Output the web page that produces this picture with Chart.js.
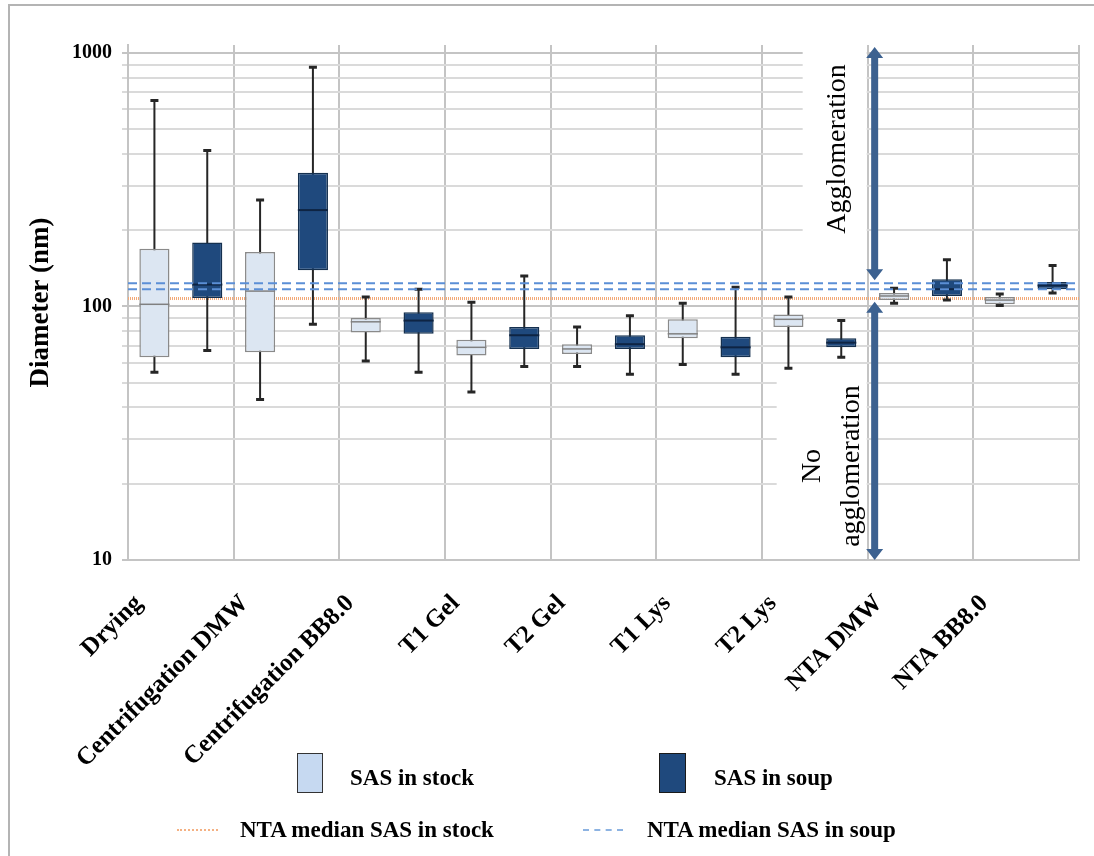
<!DOCTYPE html>
<html>
<head>
<meta charset="utf-8">
<script src="https://cdn.jsdelivr.net/npm/chart.js@4.4.1/dist/chart.umd.min.js"></script>
<style>
  html, body { margin: 0; padding: 0; background: #fff; }
  #wrap { position: relative; width: 1094px; height: 856px; overflow: hidden; }
  #frame { position: absolute; left: 8px; top: 4px; width: 1200px; height: 1000px;
           border-left: 2px solid #b4b4b4; border-top: 2px solid #b4b4b4; }
  canvas { position: absolute; left: 0; top: 0; }
  .lg { position: absolute; font: bold 23px "Liberation Serif", "Times New Roman", serif;
        color: #000; line-height: 23px; white-space: nowrap; }
  .sw { position: absolute; box-sizing: border-box; }
</style>
</head>
<body>
<div id="wrap">
  <div id="frame"></div>
  <canvas id="chart" width="1094" height="856"></canvas>

  <div class="sw" style="left:297px;top:753px;width:26px;height:40px;background:#c6d9f1;border:1.5px solid #333;"></div>
  <div class="lg" style="left:350px;top:766px;">SAS in stock</div>
  <div class="sw" style="left:659px;top:753px;width:27px;height:40px;background:#1f497d;border:1.5px solid #1a1a1a;"></div>
  <div class="lg" style="left:714px;top:766px;">SAS in soup</div>

  <div class="sw" style="left:177px;top:829px;width:41px;height:0;border-top:2px dotted #f4b183;"></div>
  <div class="lg" style="left:240px;top:818px;">NTA median SAS in stock</div>
  <div class="sw" style="left:583px;top:829px;width:40px;height:0;border-top:2px dashed #8db3e2;"></div>
  <div class="lg" style="left:647px;top:818px;">NTA median SAS in soup</div>
</div>

<script>
// categories on the x axis
const categories = ['Drying', 'Centrifugation DMW', 'Centrifugation BB8.0', 'T1 Gel', 'T2 Gel',
                    'T1 Lys', 'T2 Lys', 'NTA DMW', 'NTA BB8.0'];

// SAS in stock (nm)
const stockMin = [55, 43, 61, 46, 58, 59, 57, 103, 101];
const stockQ1  = [63, 66, 79, 64, 65, 75, 83, 106, 102];
const stockMed = [102, 115, 87, 69, 68, 78, 89, 110, 106];
const stockQ3  = [169, 164, 90, 74, 71, 89, 93, 113, 109];
const stockMax = [650, 263, 109, 104, 83, 103, 109, 118, 112];

// SAS in soup (nm)
const soupMin = [67, 85, 55, 58, 54, 54, 63, 106, 113];
const soupQ1  = [108, 139, 78, 68, 68, 63, 69, 110, 117];
const soupMed = [122, 240, 88, 77, 71, 69, 72, 117, 121];
const soupQ3  = [179, 337, 95, 83, 77, 76, 75, 128, 125];
const soupMax = [412, 878, 117, 132, 92, 119, 88, 153, 145];

// NTA median reference lines (nm)
const ntaStockMedian = [107.5];
const ntaSoupMedian = [117, 123.5];

// y axis: grid values and the ones that get a label
const yGridValues = [10, 20, 30, 40, 50, 60, 70, 80, 90, 100, 200, 300, 400, 500, 600, 700, 800, 900, 1000];
const yLabelValues = [10, 100, 1000];

// arrows (from / to, nm)
const aggloArrow = [1056, 127];
const noAggloArrow = [104.5, 10];

const SERIF = '"Liberation Serif", "Times New Roman", serif';
const ARROW_COLOR = '#3c6190';

function drawArrow(ctx, x, y1, y2) {
    // y1 top tip, y2 bottom tip (pixels), heads on both ends
    const head = 11, hw = 8.5, sw = 3.5;
    ctx.fillStyle = ARROW_COLOR;
    ctx.beginPath();
    ctx.moveTo(x, y1);
    ctx.lineTo(x + hw, y1 + head);
    ctx.lineTo(x + sw, y1 + head);
    ctx.lineTo(x + sw, y2 - head);
    ctx.lineTo(x + hw, y2 - head);
    ctx.lineTo(x, y2);
    ctx.lineTo(x - hw, y2 - head);
    ctx.lineTo(x - sw, y2 - head);
    ctx.lineTo(x - sw, y1 + head);
    ctx.lineTo(x - hw, y1 + head);
    ctx.closePath();
    ctx.fill();
}

const boxExtras = {
    id: 'boxExtras',
    beforeDatasetsDraw(chart) {
        const {ctx, chartArea, scales: {x, y}} = chart;
        const split = (x.getPixelForValue(6) + x.getPixelForValue(7)) / 2;

        ctx.save();
        // white boxes behind the annotation texts
        ctx.fillStyle = '#fff';
        ctx.fillRect(split - 65, chartArea.top, 64, 207);
        ctx.fillRect(split - 91, 370, 90, chartArea.bottom - 372);

        // orange dotted line sits behind the boxes
        ctx.strokeStyle = '#f2a978';
        ctx.lineWidth = 3;
        ctx.setLineDash([1, 1]);
        ntaStockMedian.forEach(v => {
            const py = y.getPixelForValue(v);
            ctx.beginPath();
            ctx.moveTo(chartArea.left, py);
            ctx.lineTo(chartArea.right, py);
            ctx.stroke();
        });
        ctx.setLineDash([]);

        // whiskers
        const series = [[stockMin, stockMax], [soupMin, soupMax]];
        ctx.strokeStyle = '#262626';
        series.forEach((s, di) => {
            chart.getDatasetMeta(di).data.forEach((bar, i) => {
                const top = y.getPixelForValue(s[1][i]);
                const bot = y.getPixelForValue(s[0][i]);
                ctx.lineWidth = 2;
                ctx.beginPath();
                ctx.moveTo(bar.x, top);
                ctx.lineTo(bar.x, bot);
                ctx.stroke();
                ctx.lineWidth = 3;
                ctx.beginPath();
                ctx.moveTo(bar.x - 4, top);
                ctx.lineTo(bar.x + 4, top);
                ctx.moveTo(bar.x - 4, bot);
                ctx.lineTo(bar.x + 4, bot);
                ctx.stroke();
            });
        });
        ctx.restore();
    },
    afterDatasetsDraw(chart) {
        const {ctx, chartArea, scales: {x, y}} = chart;
        const split = (x.getPixelForValue(6) + x.getPixelForValue(7)) / 2;
        ctx.save();

        // medians
        const meds = [[stockMed, '#808080', 1.5], [soupMed, '#0e2443', 2]];
        meds.forEach((m, di) => {
            ctx.strokeStyle = m[1];
            ctx.lineWidth = m[2];
            chart.getDatasetMeta(di).data.forEach((bar, i) => {
                const py = y.getPixelForValue(m[0][i]);
                ctx.beginPath();
                ctx.moveTo(bar.x - bar.width / 2, py);
                ctx.lineTo(bar.x + bar.width / 2, py);
                ctx.stroke();
            });
        });

        // blue dashed lines on top
        ctx.strokeStyle = '#5b8fd6';
        ctx.lineWidth = 2;
        ctx.setLineDash([9, 5]);
        ntaSoupMedian.forEach(v => {
            const py = y.getPixelForValue(v);
            ctx.beginPath();
            ctx.moveTo(chartArea.left, py);
            ctx.lineTo(chartArea.right, py);
            ctx.stroke();
        });
        ctx.setLineDash([]);

        // arrows
        const ax = split + 7;
        drawArrow(ctx, ax, y.getPixelForValue(aggloArrow[0]), y.getPixelForValue(aggloArrow[1]));
        drawArrow(ctx, ax, y.getPixelForValue(noAggloArrow[0]), y.getPixelForValue(noAggloArrow[1]));

        // annotation texts
        ctx.fillStyle = '#000';
        ctx.font = '28px ' + SERIF;
        ctx.textAlign = 'center';
        ctx.textBaseline = 'middle';
        const texts = [['Agglomeration', split - 30, 149], ['No', split - 55, 466], ['agglomeration', split - 16, 466]];
        texts.forEach(t => {
            ctx.save();
            ctx.translate(t[1], t[2]);
            ctx.rotate(-Math.PI / 2);
            ctx.fillText(t[0], 0, 0);
            ctx.restore();
        });
        ctx.restore();
    }
};

new Chart(document.getElementById('chart'), {
    type: 'bar',
    data: {
        labels: categories,
        datasets: [{
            label: 'SAS in stock',
            data: categories.map((c, i) => [stockQ1[i], stockQ3[i]]),
            backgroundColor: '#dce6f2',
            borderColor: '#8a8a8a',
            borderWidth: 1.5,
            borderSkipped: false
        }, {
            label: 'SAS in soup',
            data: categories.map((c, i) => [soupQ1[i], soupQ3[i]]),
            backgroundColor: '#1f497d',
            borderColor: '#15304f',
            borderWidth: 1.5,
            borderSkipped: false
        }]
    },
    options: {
        responsive: false,
        animation: false,
        layout: { padding: { top: 45, right: 15, left: 0, bottom: 0 } },
        categoryPercentage: 1.0,
        barPercentage: 0.57,
        plugins: {
            legend: { display: false },
            tooltip: { enabled: false }
        },
        scales: {
            x: {
                grid: { color: '#c4c4c4', lineWidth: 2, drawTicks: false, offset: true },
                border: { color: '#c4c4c4', width: 2 },
                ticks: {
                    color: '#000',
                    font: { family: SERIF, size: 25, weight: 'bold' },
                    minRotation: 45,
                    maxRotation: 45,
                    autoSkip: false,
                    labelOffset: -42,
                    padding: 29
                },
                afterFit: function(scale) { scale.height = 296; }
            },
            y: {
                type: 'logarithmic',
                min: 10,
                max: 1075,
                afterBuildTicks: function(scale) {
                    scale.ticks = yGridValues.map(v => ({ value: v }));
                },
                afterFit: function(scale) { scale.width = 128; },
                grid: {
                    color: function(c) {
                        return yLabelValues.includes(c.tick && c.tick.value) ? '#c4c4c4' : '#dadada';
                    },
                    lineWidth: 2,
                    tickLength: 6
                },
                border: { color: '#c4c4c4', width: 2 },
                ticks: {
                    color: '#000',
                    font: { family: SERIF, size: 20, weight: 'bold' },
                    padding: 10,
                    autoSkip: false,
                    callback: function(value) {
                        return yLabelValues.includes(value) ? String(value) : '';
                    }
                },
                title: {
                    display: true,
                    text: 'Diameter (nm)',
                    color: '#000',
                    font: { family: SERIF, size: 27, weight: 'bold' },
                    padding: { top: 25, bottom: 0 }
                }
            }
        }
    },
    plugins: [boxExtras]
});
</script>
</body>
</html>
